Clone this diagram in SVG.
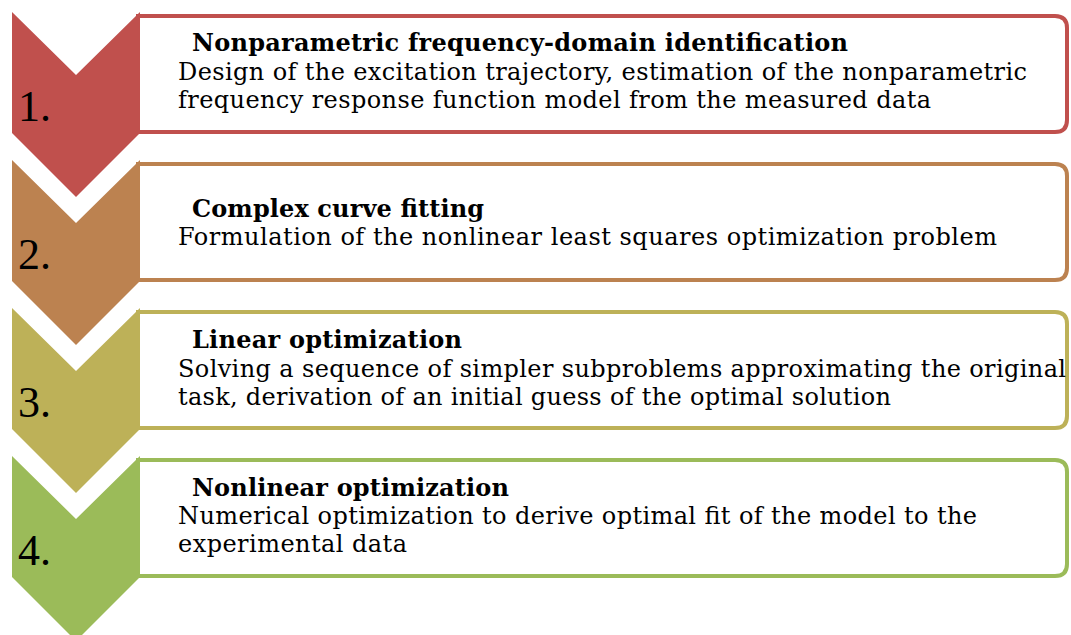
<svg xmlns="http://www.w3.org/2000/svg" width="1071" height="635" viewBox="0 0 1071 635">
  <style>
    .box { fill: #ffffff; stroke-width: 4; }
    .title { font-family: "DejaVu Serif", "Liberation Serif", serif; font-weight: bold; font-size: 24px; fill: #000; }
    .body { font-family: "DejaVu Serif", "Liberation Serif", serif; font-size: 24px; fill: #000; }
    .num { font-family: "Liberation Serif", "DejaVu Serif", serif; font-size: 44px; fill: #000; }
    .s1 { fill: #C0504D; }
    .s2 { fill: #BC8250; }
    .s3 { fill: #BDB158; }
    .s4 { fill: #9BBB59; }
  </style>
  <defs>
    <!-- chevron pointing down, origin at its top-left corner -->
    <path id="chev" d="M0,0 L64,63 L128,0 L128,121 L64,185 L0,121 Z"/>
    <!-- text box, left edge tucked under the chevron, rounded on the right -->
    <path id="frame" d="M126,4 H1043 Q1055,4 1055,16 V108 Q1055,120 1043,120 H126 Z"/>
  </defs>

  <g id="connectors"></g>

  <g id="step1">
    <use href="#frame" x="12" y="12" class="box" style="stroke:#C0504D"/>
    <use href="#chev" x="12" y="12" class="s1"/>
    <text class="num" x="18" y="121">1.</text>
    <text class="title" x="192" y="51" textLength="656">Nonparametric frequency-domain identification</text>
    <text class="body" x="178" y="80" textLength="849">Design of the excitation trajectory, estimation of the nonparametric</text>
    <text class="body" x="178" y="108" textLength="753">frequency response function model from the measured data</text>
  </g>

  <g id="step2">
    <use href="#frame" x="12" y="160" class="box" style="stroke:#BC8250"/>
    <use href="#chev" x="12" y="160" class="s2"/>
    <text class="num" x="18" y="269">2.</text>
    <text class="title" x="192" y="217" textLength="292">Complex curve fitting</text>
    <text class="body" x="178" y="245" textLength="819">Formulation of the nonlinear least squares optimization problem</text>
  </g>

  <g id="step3">
    <use href="#frame" x="12" y="308" class="box" style="stroke:#BDB158"/>
    <use href="#chev" x="12" y="308" class="s3"/>
    <text class="num" x="18" y="417">3.</text>
    <text class="title" x="192" y="348" textLength="270">Linear optimization</text>
    <text class="body" x="178" y="377" textLength="888">Solving a sequence of simpler subproblems approximating the original</text>
    <text class="body" x="178" y="405" textLength="713">task, derivation of an initial guess of the optimal solution</text>
  </g>

  <g id="step4">
    <use href="#frame" x="12" y="456" class="box" style="stroke:#9BBB59"/>
    <use href="#chev" x="12" y="456" class="s4"/>
    <text class="num" x="18" y="565">4.</text>
    <text class="title" x="192" y="496" textLength="317">Nonlinear optimization</text>
    <text class="body" x="178" y="524" textLength="799">Numerical optimization to derive optimal fit of the model to the</text>
    <text class="body" x="178" y="552" textLength="229">experimental data</text>
  </g>
</svg>
